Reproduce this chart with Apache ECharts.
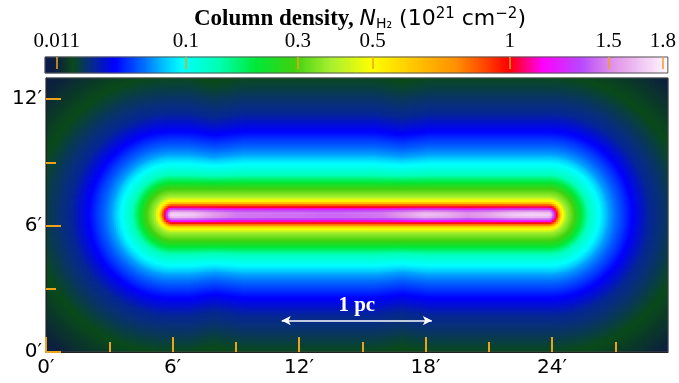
<!DOCTYPE html>
<html><head><meta charset="utf-8">
<script src="https://cdn.jsdelivr.net/npm/echarts@6/dist/echarts.min.js"></script>
<style>html,body{margin:0;padding:0;background:#fff}#c{width:679px;height:383px}</style>
</head><body><div id="c"></div>
<script>
// ---- data ----
// radial profile: column density (1e21 cm^-2) vs distance (arcmin) from filament axis
const profileDist = [0, 0.1, 0.17, 0.24, 0.3, 0.38, 0.5, 0.6, 0.84, 1.23, 1.55, 1.9, 2.34, 2.85, 3.3, 3.95, 4.8, 5.9, 6.5, 7.5, 8.5, 9.5, 12];
const profileVal  = [1.65, 1.62, 1.5, 1.35, 1.18, 1.0, 0.78, 0.55, 0.38, 0.29, 0.21, 0.137, 0.1, 0.07, 0.055, 0.038, 0.026, 0.02, 0.017, 0.014, 0.011, 0.008, 0.006];
// peak column density along the filament axis
const axisX    = [6, 7, 8, 9, 10, 11, 12, 13, 14, 15, 16, 17, 18, 19, 20, 21, 22, 23, 24];
const axisPeak = [1.72, 1.68, 1.55, 1.46, 1.45, 1.44, 1.44, 1.42, 1.42, 1.44, 1.46, 1.55, 1.66, 1.62, 1.52, 1.58, 1.68, 1.72, 1.7];
// relative width of the outer envelope along the axis (shallow notches between clumps)
const envX     = [0, 6.8, 8.0, 9.4, 15.6, 16.9, 18.2, 29.5];
const envWidth = [1, 1, 0.955, 1, 1, 0.96, 1, 1];
const filamentStart = 6.0, filamentEnd = 23.85, filamentY = 6.52;
const mapWidth = 29.5, mapHeight = 13;
const colorbarTicks = [0.011, 0.1, 0.3, 0.5, 1, 1.5, 1.8];
const colorbarLabels = ['0.011', '0.1', '0.3', '0.5', '1', '1.5', '1.8'];
const xMajor = [0, 6, 12, 18, 24], xMinor = [3, 9, 15, 21, 27];
const yMajor = [0, 6, 12], yMinor = [3, 9];
const scaleBar = { x0: 11.18, x1: 18.3, y: 1.49, labelY: 2.2, label: '1 pc' };

// ---- colour scale (display stretch of the colour bar) ----
const stretchV = [0.0076, 0.011, 0.1, 0.3, 0.5, 1, 1.5, 1.8, 1.83];
const stretchF = [0, 0.019, 0.226, 0.406, 0.526, 0.746, 0.905, 0.992, 1];
const G = 0.42;
const stretchU = stretchV.map(v => Math.pow(v, G));
function stretch(v) {
  const u = Math.pow(Math.max(v, 1e-9), G);
  if (u <= stretchU[0]) return 0;
  for (let i = 0; i < stretchU.length - 1; i++) {
    if (u <= stretchU[i + 1]) return stretchF[i] + (u - stretchU[i]) / (stretchU[i + 1] - stretchU[i]) * (stretchF[i + 1] - stretchF[i]);
  }
  return 1;
}
const cmapPos = [0, 0.02, 0.045, 0.07, 0.112, 0.16, 0.19, 0.22, 0.28, 0.34, 0.40, 0.46, 0.525, 0.59, 0.66, 0.71, 0.745, 0.80, 0.86, 0.91, 1.0];
const cmapCol = ['#0c1a4c', '#0d2040', '#0a4a1a', '#08307a', '#0000ff', '#0070ff', '#00c0ff', '#00ffff', '#00ffb0', '#00e838', '#40d010', '#a8f030', '#ffff00', '#ffc800', '#ff9000', '#ff4000', '#ff0000', '#ff00ff', '#b848ff', '#e090e8', '#fff8ff'];
function hex2rgb(h) { return [1, 3, 5].map(i => parseInt(h.substr(i, 2), 16)); }
const cmapRGB = cmapCol.map(hex2rgb);
const NC = 201, palette = [];
for (let k = 0; k < NC; k++) {
  const f = k / (NC - 1);
  let i = 0; while (i < cmapPos.length - 2 && f > cmapPos[i + 1]) i++;
  const t = Math.min(1, Math.max(0, (f - cmapPos[i]) / (cmapPos[i + 1] - cmapPos[i])));
  const c = cmapRGB[i].map((a, j) => Math.round(a + (cmapRGB[i + 1][j] - a) * t));
  palette.push('rgb(' + c.join(',') + ')');
}

function lerpTable(xs, ys, x) {
  if (x <= xs[0]) return ys[0];
  for (let i = 0; i < xs.length - 1; i++) if (x <= xs[i + 1]) return ys[i] + (x - xs[i]) / (xs[i + 1] - xs[i]) * (ys[i + 1] - ys[i]);
  return ys[ys.length - 1];
}
function density(x, y) {
  let dx = 0;
  if (x < filamentStart) dx = filamentStart - x;
  else if (x > filamentEnd) dx = x - filamentEnd;
  const dy = y - filamentY;
  const d0 = Math.sqrt(dx * dx + dy * dy);
  const w = lerpTable(envX, envWidth, x);
  const d = d0 / (1 - (1 - w) * Math.min(1, Math.max(0, (d0 - 1.2) / 1.5)));
  const r = lerpTable(axisX, axisPeak, x) / profileVal[0];
  return lerpTable(profileDist, profileVal, d) * (1 + (r - 1) * Math.max(0, 1 - d / 0.45));
}

const mapRect = { left: 46, top: 78, width: 622, height: 274 };
const barRect = { left: 45, top: 57, width: 623, height: 16 };
// one heat-map cell per 2 screen pixels
const nx = mapRect.width / 2, ny = mapRect.height / 2;
const cw = mapWidth / nx, ch = mapHeight / ny;
const xCats = [], yCats = [], mapData = [];
for (let i = 0; i < nx; i++) xCats.push(i);
for (let j = 0; j < ny; j++) yCats.push(j);
for (let i = 0; i < nx; i++) for (let j = 0; j < ny; j++) {
  const v = density((i + 0.5) * cw, (j + 0.5) * ch);
  mapData.push([i, j, stretch(v), v]);
}
const NB = barRect.width, barCats = [], barData = [];
for (let i = 0; i < NB; i++) { barCats.push(i); barData.push([i, 0, (i + 0.5) / NB]); }
const cbTickPos = colorbarTicks.map(stretch);

const ORANGE = '#eda21c';
const prime = v => v + '\u2032';
const sansLabel = { fontFamily: 'DejaVu Sans', fontSize: 20, color: '#000' };

const chart = echarts.init(document.getElementById('c'), null, { renderer: 'canvas' });
chart.setOption({
  animation: false,
  backgroundColor: '#fff',
  grid: [
    Object.assign({}, mapRect),
    Object.assign({ show: true, z: 10, borderColor: '#444', borderWidth: 1, backgroundColor: 'transparent' }, mapRect),
    Object.assign({}, barRect),
    Object.assign({ show: true, z: 10, borderColor: '#555', borderWidth: 1, backgroundColor: 'transparent' }, barRect)
  ],
  xAxis: [
    { type: 'category', gridIndex: 0, data: xCats, show: false },
    { type: 'value', gridIndex: 1, min: 0, max: mapWidth, position: 'bottom', z: 10,
      axisLine: { show: true, onZero: false, lineStyle: { color: '#222', width: 1 } },
      axisTick: { show: true, inside: true, length: 15, customValues: xMajor, lineStyle: { color: ORANGE, width: 2 } },
      axisLabel: Object.assign({ customValues: xMajor, formatter: prime, margin: 6 }, sansLabel),
      splitLine: { show: false } },
    { type: 'value', gridIndex: 1, min: 0, max: mapWidth, position: 'bottom', z: 10,
      axisLine: { show: false, onZero: false },
      axisTick: { show: true, inside: true, length: 10, customValues: xMinor, lineStyle: { color: ORANGE, width: 2 } },
      axisLabel: { show: false }, splitLine: { show: false } },
    { type: 'category', gridIndex: 2, data: barCats, show: false },
    { type: 'value', gridIndex: 3, min: 0, max: 1, position: 'top', z: 10,
      axisLine: { show: false, onZero: false },
      axisTick: { show: true, inside: true, length: 12, customValues: cbTickPos, lineStyle: { color: ORANGE, width: 1.5 } },
      axisLabel: { customValues: cbTickPos, margin: 5, fontFamily: 'Liberation Serif', fontSize: 21, color: '#000',
        formatter: v => { let b = 0; cbTickPos.forEach((p, i) => { if (Math.abs(p - v) < Math.abs(cbTickPos[b] - v)) b = i; }); return colorbarLabels[b]; } },
      splitLine: { show: false } }
  ],
  yAxis: [
    { type: 'category', gridIndex: 0, data: yCats, show: false },
    { type: 'value', gridIndex: 1, min: 0, max: mapHeight, position: 'left', z: 10,
      axisLine: { show: true, onZero: false, lineStyle: { color: '#222', width: 1 } },
      axisTick: { show: true, inside: true, length: 15, customValues: yMajor, lineStyle: { color: ORANGE, width: 2 } },
      axisLabel: Object.assign({ customValues: yMajor, formatter: prime, margin: 4 }, sansLabel),
      splitLine: { show: false } },
    { type: 'value', gridIndex: 1, min: 0, max: mapHeight, position: 'left', z: 10,
      axisLine: { show: false, onZero: false },
      axisTick: { show: true, inside: true, length: 10, customValues: yMinor, lineStyle: { color: ORANGE, width: 2 } },
      axisLabel: { show: false }, splitLine: { show: false } },
    { type: 'category', gridIndex: 2, data: [0], show: false },
    { type: 'value', gridIndex: 3, min: 0, max: 1, show: false, axisLine: { onZero: false } }
  ],
  visualMap: {
    type: 'continuous', show: false, min: 0, max: 1, dimension: 2, seriesIndex: [0, 1],
    inRange: { color: palette }
  },
  series: [
    { type: 'heatmap', xAxisIndex: 0, yAxisIndex: 0, data: mapData, progressive: 0, emphasis: { disabled: true }, silent: true },
    { type: 'heatmap', xAxisIndex: 3, yAxisIndex: 3, data: barData, progressive: 0, emphasis: { disabled: true }, silent: true },
    { type: 'scatter', xAxisIndex: 1, yAxisIndex: 1, z: 20, symbolSize: 0, silent: true,
      itemStyle: { opacity: 1 },
      data: [[(scaleBar.x0 + scaleBar.x1) / 2, scaleBar.labelY]],
      label: { show: true, position: 'inside', formatter: scaleBar.label, color: '#ffffff', opacity: 1, fontFamily: 'Liberation Serif', fontWeight: 'bold', fontSize: 21 },
      markLine: { silent: true, symbol: ['arrow', 'arrow'], symbolSize: [7, 9], label: { show: false },
        lineStyle: { color: '#fff', width: 1.5, type: 'solid', opacity: 1 },
        data: [[{ coord: [scaleBar.x0, scaleBar.y] }, { coord: [scaleBar.x1, scaleBar.y] }]] } }
  ],
  graphic: [{
    type: 'text', x: 360, y: 19, z: 100,
    style: {
      text: '{b|Column density, }{i|N}{sub|H\u2082}{n| (10}{sup|21}{n| cm}{sup|\u22122}{n|)}',
      align: 'center', verticalAlign: 'middle',
      rich: {
        b: { fontFamily: 'Liberation Serif', fontWeight: 'bold', fontSize: 23, color: '#000' },
        i: { fontFamily: 'DejaVu Sans', fontStyle: 'italic', fontSize: 22, color: '#000' },
        sub: { fontFamily: 'DejaVu Sans', fontSize: 14, color: '#000', padding: [10, 0, 0, 0] },
        n: { fontFamily: 'DejaVu Sans', fontSize: 22, color: '#000' },
        sup: { fontFamily: 'DejaVu Sans', fontSize: 15, color: '#000', padding: [0, 0, 10, 0] }
      }
    }
  }]
});
</script></body></html>
